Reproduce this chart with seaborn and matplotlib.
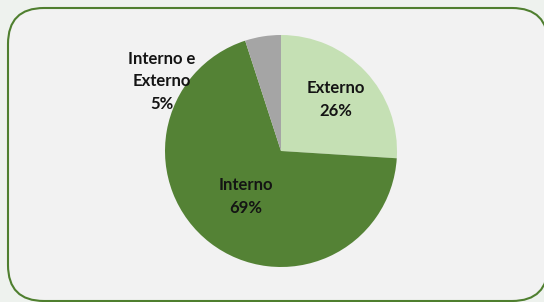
import matplotlib
matplotlib.use("Agg")
import matplotlib.pyplot as plt
import seaborn as sns
import numpy as np
from matplotlib.patches import FancyBboxPatch

# data
categories = ["Externo", "Interno", "Interno e\nExterno"]
shares = [26, 69, 5]
colors = ["#c5e0b4", "#548235", "#a5a5a5"]

sns.set_theme(style="white")
plt.rcParams['font.family'] = ['Lato', 'DejaVu Sans']

W, H = 544, 302
fig = plt.figure(figsize=(W / 100, H / 100), dpi=100)
fig.patch.set_facecolor("#eef2ee")
ax = fig.add_axes([0, 0, 1, 1])

# rounded panel (runs slightly off the right edge like the slide)
panel = FancyBboxPatch((8, 1), 540, 293, boxstyle="round,pad=0,rounding_size=36",
                       facecolor="#f2f2f2", edgecolor="#4f7f2f", linewidth=1.5, zorder=0)
ax.add_patch(panel)

cx, cy, r = 281, 151, 116
wedges, _ = ax.pie(shares, colors=colors, startangle=90, counterclock=False,
                   center=(cx, cy), radius=r, frame=True,
                   wedgeprops=dict(linewidth=0))
ax.set_xlim(0, W)
ax.set_ylim(0, H)
ax.set_aspect("equal")
ax.axis("off")

dists = [0.65, 0.495, None]
for w, lab, val, d in zip(wedges, categories, shares, dists):
    mid = np.deg2rad((w.theta1 + w.theta2) / 2)
    if d is not None:
        x = cx + d * r * np.cos(mid)
        y = cy + d * r * np.sin(mid)
    else:
        # small slice: label sits outside, up and to the left
        x = cx - 1.03 * r
        y = cy + 0.6 * r
    ax.text(x, y, f"{lab}\n{val}%", ha="center", va="center",
            fontsize=12, fontweight="bold", color="#141414", linespacing=1.5)

fig.savefig("out.png", dpi=100, facecolor=fig.get_facecolor())
